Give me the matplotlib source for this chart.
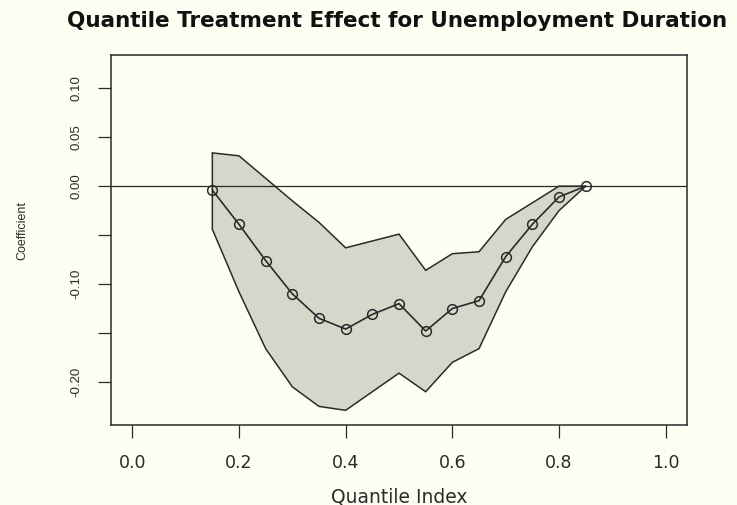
import matplotlib
matplotlib.use("Agg")
import matplotlib.pyplot as plt
import numpy as np

# ---- data ----
quantiles = [0.15, 0.20, 0.25, 0.30, 0.35, 0.40, 0.45, 0.50,
             0.55, 0.60, 0.65, 0.70, 0.75, 0.80, 0.85]
coef = [-0.004, -0.039, -0.076, -0.110, -0.135, -0.146, -0.131, -0.120,
        -0.148, -0.125, -0.117, -0.072, -0.039, -0.011, 0.000]
upper = [0.034, 0.031, 0.008, -0.015, -0.037, -0.063, -0.056, -0.049,
         -0.086, -0.069, -0.067, -0.034, -0.017, 0.000, 0.000]
lower = [-0.044, -0.108, -0.166, -0.205, -0.225, -0.229, -0.210, -0.191,
         -0.210, -0.180, -0.166, -0.108, -0.062, -0.025, 0.000]

xticks = [0.0, 0.2, 0.4, 0.6, 0.8, 1.0]
xticklabels = ["0.0", "0.2", "0.4", "0.6", "0.8", "1.0"]
yticks = [-0.20, -0.15, -0.10, -0.05, 0.00, 0.05, 0.10]
yticklabels = ["-0.20", "", "-0.10", "", "0.00", "0.05", "0.10"]

title = "Quantile Treatment Effect for Unemployment Duration"
xlabel = "Quantile Index"
ylabel = "Coefficient"

wide = ["DejaVu Sans"]
narrow = ["Liberation Sans", "DejaVu Sans"]
plt.rcParams["font.family"] = narrow

W, H = 737, 505
bg = "#fdfdf2"
ink = "#2a2a2a"
fig = plt.figure(figsize=(W / 100, H / 100), dpi=100, facecolor=bg)
ax = fig.add_axes([111 / W, 1 - 425 / H, (687 - 111) / W, (425 - 55) / H])
ax.set_facecolor(bg)

q = np.array(quantiles)
ax.fill(np.r_[q, q[::-1]], np.r_[upper, lower[::-1]],
        facecolor="#d6d7cb", edgecolor=ink, lw=1.1, zorder=2)
ax.axhline(0, color=ink, lw=0.9, zorder=3)
ax.plot(q, coef, "-o", color=ink, mfc="none", mec=ink, ms=7, mew=1.1,
        lw=1.2, zorder=4)

ax.set_xlim(-0.04, 1.04)
ax.set_ylim(-0.244, 0.134)
ax.set_xticks(xticks)
ax.set_xticklabels(xticklabels, fontsize=12.5, color=ink, family=wide)
ax.set_yticks(yticks)
ax.set_yticklabels(yticklabels, fontsize=9.5, color=ink, rotation=90,
                   va="center", family=narrow)
ax.tick_params(axis="x", length=9, width=0.9, pad=12, colors=ink)
ax.tick_params(axis="y", length=9.5, width=0.9, pad=11, colors=ink)
for s in ax.spines.values():
    s.set_color(ink)
    s.set_linewidth(1.1)

fig.text(397 / W, 1 - 21 / H, title, ha="center", va="center",
         fontsize=15.5, fontweight="bold", color="#111111", family=wide)
fig.text(399 / W, 1 - 497 / H, xlabel, ha="center", va="center",
         fontsize=13.5, color=ink, family=wide)
fig.text(22 / W, 1 - 231 / H, ylabel, ha="center", va="center",
         rotation=90, fontsize=9, color=ink, family=narrow)

fig.savefig("out.png", dpi=100, facecolor=bg)
